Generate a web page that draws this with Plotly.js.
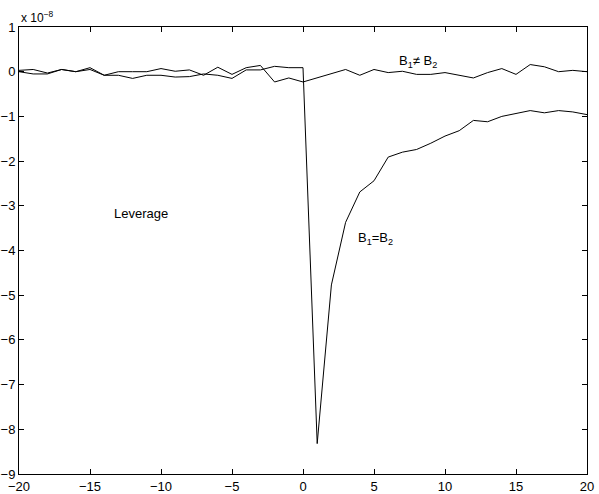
<!DOCTYPE html>
<html>
<head>
<meta charset="utf-8">
<script src="https://cdn.plot.ly/plotly-3.0.1.min.js"></script>
<style>html,body{margin:0;padding:0;background:#fff;}#chart{width:599px;height:494px;}</style>
</head>
<body>
<div id="chart"></div>
<script>
var lags = [];
for (var k = -20; k <= 20; k++) lags.push(k);

// values in units of 1e-8
var unequalB = [0.03, 0.05, -0.03, 0.05, 0.0, 0.09, -0.08, 0.0, 0.0, 0.0, 0.07, 0.01, 0.04, -0.08, 0.10, -0.06, 0.09, 0.14, -0.23, -0.14, -0.23,
  -0.14, -0.05, 0.05, -0.08, 0.05, -0.02, 0.01, -0.06, -0.06, -0.02, -0.08, -0.14, -0.02, 0.07, -0.06, 0.16, 0.11, 0.0, 0.03, 0.0];
var equalB = [0.0, -0.05, -0.05, 0.05, 0.0, 0.05, -0.08, -0.08, -0.15, -0.08, -0.08, -0.12, -0.11, -0.05, -0.08, -0.15, 0.04, 0.04, 0.12, 0.09, 0.09,
  -8.32, -4.77, -3.37, -2.69, -2.44, -1.91, -1.80, -1.74, -1.60, -1.44, -1.32, -1.09, -1.12, -1.0, -0.94, -0.87, -0.92, -0.87, -0.90, -0.96];

var xTicks = [-20, -15, -10, -5, 0, 5, 10, 15, 20];
var yTicks = [1, 0, -1, -2, -3, -4, -5, -6, -7, -8, -9];

var labels = [
  {x: 8.1, y: 0.22, text: 'B<sub>1</sub>\u2260 B<sub>2</sub>'},
  {x: 5.1, y: -3.73, text: 'B<sub>1</sub>=B<sub>2</sub>'},
  {x: -11.4, y: -3.17, text: 'Leverage'}
];

var lineStyle = {color: '#000', width: 1};
var traces = [
  {x: lags, y: unequalB, type: 'scatter', mode: 'lines', line: lineStyle, hoverinfo: 'none'},
  {x: lags, y: equalB, type: 'scatter', mode: 'lines', line: lineStyle, hoverinfo: 'none'}
];

var fontBase = {family: 'Liberation Sans, Arial, Helvetica, sans-serif', size: 13, color: '#000'};

var annotations = labels.map(function (l) {
  return {x: l.x, y: l.y, xref: 'x', yref: 'y', text: l.text, showarrow: false, font: fontBase,
          xanchor: 'center', yanchor: 'middle'};
});
annotations.push({xref: 'paper', yref: 'paper', x: 0, y: 1, xanchor: 'left', yanchor: 'bottom',
  text: 'x 10<sup>\u22128</sup>', showarrow: false,
  font: {family: fontBase.family, size: 12, color: '#000'}, yshift: 0});

var axisCommon = {
  showgrid: false, zeroline: false, showline: true, linecolor: '#000', linewidth: 1,
  mirror: 'allticks', ticks: 'inside', ticklen: 5, tickwidth: 1, tickcolor: '#000',
  tickfont: fontBase, fixedrange: true
};

function fmt(v) { return v < 0 ? '\u2212' + (-v) : String(v); }

var layout = {
  width: 599, height: 494,
  margin: {l: 19, r: 12, t: 27, b: 20, pad: 0},
  paper_bgcolor: '#fff', plot_bgcolor: '#fff',
  showlegend: false,
  xaxis: Object.assign({}, axisCommon, {range: [-20, 20], tickvals: xTicks, ticktext: xTicks.map(fmt)}),
  yaxis: Object.assign({}, axisCommon, {range: [-9, 1], tickvals: yTicks, ticktext: yTicks.map(fmt)}),
  annotations: annotations
};

Plotly.newPlot('chart', traces, layout, {displayModeBar: false, staticPlot: true});
</script>
</body>
</html>
